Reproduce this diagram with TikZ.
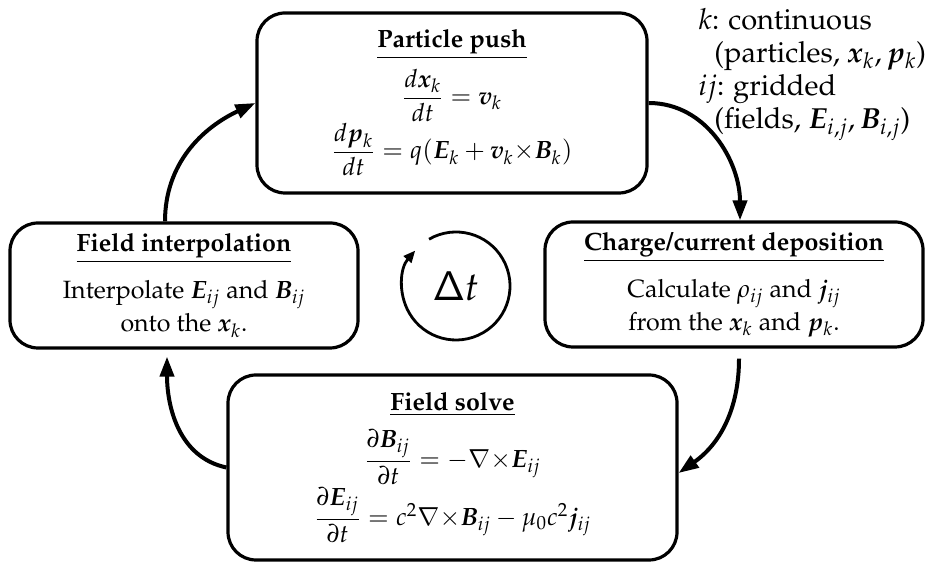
\documentclass[tikz,border=0pt]{standalone}
\usepackage[T1]{fontenc}
\usepackage{mathpazo}
\usepackage{amsmath}
\usepackage{bm}
\usetikzlibrary{arrows.meta}

\begin{document}
\begin{tikzpicture}[
    x=0.5pt, y=0.5pt,
    box/.style={
        draw,
        line width=1.6pt,
        rounded corners=14pt,
        align=center,
        font=\fontsize{12.5}{16.5}\selectfont
    },
    arrow/.style={-{Triangle[length=10pt,width=7pt]}, line width=2pt},
    looparrow/.style={-{Triangle[length=6pt,width=5pt]}, line width=1.4pt}
]
\useasboundingbox (0,0) rectangle (945,565);

\node[box, minimum width=195pt, minimum height=90pt] (push) at (452,462)
    {\underline{\textbf{Particle push}}\\[4pt]
     $\dfrac{d\bm{x}_k}{dt}=\bm{v}_k$\\
     $\dfrac{d\bm{p}_k}{dt}=q(\bm{E}_k+\bm{v}_k{\times}\bm{B}_k)$};
\node[box, minimum width=189pt, minimum height=62.5pt] (deposit) at (734,280.5)
    {\underline{\textbf{Charge/current deposition}}\\[7pt]
     Calculate $\rho_{ij}$ and $\bm{j}_{ij}$\\
     from the $\bm{x}_k$ and $\bm{p}_k$.};
\node[box, minimum width=224.5pt, minimum height=92.5pt] (solve) at (452.5,97.5)
    {\underline{\textbf{Field solve}}\\[6pt]
     $\dfrac{\partial\bm{B}_{ij}}{\partial t}=-\nabla{\times}\bm{E}_{ij}$\\
     $\dfrac{\partial\bm{E}_{ij}}{\partial t}=c^2\nabla{\times}\bm{B}_{ij}-\mu_0c^2\bm{j}_{ij}$};
\node[box, minimum width=174pt, minimum height=62.5pt] (interp) at (184,279.5)
    {\underline{\textbf{Field interpolation}}\\[7pt]
     Interpolate $\bm{E}_{ij}$ and $\bm{B}_{ij}$\\
     onto the $\bm{x}_k$.};

\node[font=\fontsize{20}{24}\selectfont] (dt) at (456,279) {$\mathsf{\Delta}t$};
\node[anchor=north west, align=left, inner sep=0pt,
      font=\fontsize{14.5}{16.5}\selectfont] (note) at (698,557)
    {$k$: continuous\\
     \hspace*{8pt}(particles, $\bm{x}_k, \bm{p}_k$)\\
     $ij$: gridded\\
     \hspace*{8pt}(fields, $\bm{E}_{i,j}, \bm{B}_{i,j}$)};

\draw[arrow] (push.east) to[out=0, in=90] ([xshift=3pt]deposit.north);
\draw[arrow] ([xshift=2.5pt, yshift=-5pt]deposit.south) to[out=-90, in=35] ([yshift=-2.75pt]solve.east);
\draw[arrow] (solve.west) to[out=168, in=-90] ([xshift=-8.5pt, yshift=-3.5pt]interp.south);
\draw[arrow] ([xshift=-9.5pt]interp.north) to[out=90, in=205] (push.west);

\draw[looparrow] (dt.center) ++(120:54) arc[start angle=120, end angle=-221, radius=54];
\end{tikzpicture}
\end{document}
